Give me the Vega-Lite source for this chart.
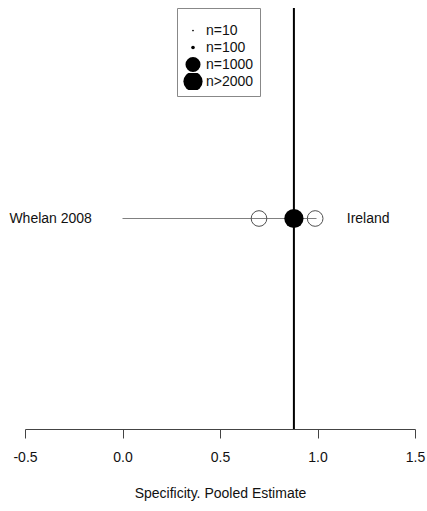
{
  "$schema": "https://vega.github.io/schema/vega-lite/v6.json",
  "width": 390,
  "height": 421,
  "autosize": {"type": "none"},
  "padding": {"left": 25, "top": 8, "right": 12, "bottom": 82},
  "background": "white",
  "config": {"view": {"stroke": null}, "font": "Liberation Sans"},
  "datasets": {
    "study": [{"study": "Whelan 2008", "country": "Ireland", "row": 0.5, "lower": 0.0, "upper": 0.995}],
    "circles": [{"value": 0.70, "row": 0.5}, {"value": 0.875, "row": 0.5}, {"value": 0.988, "row": 0.5}],
    "pooled": [{"estimate": 0.879, "row": 0.5, "n": "n>2000", "bottom": 0, "top": 1}]
  },
  "layer": [
    {
      "data": {"name": "study"},
      "mark": {"type": "rule", "color": "#808080", "strokeWidth": 1},
      "encoding": {
        "x": {"field": "lower", "type": "quantitative", "scale": {"domain": [-0.5, 1.5], "nice": false, "zero": false},
          "axis": {"values": [-0.5, 0, 0.5, 1, 1.5], "labelExpr": "datum.value < 0 ? '-' + format(-datum.value, '.1f') : format(datum.value, '.1f')", "grid": false, "domainColor": "#444", "tickColor": "#444", "tickSize": 9, "labelFontSize": 14, "labelColor": "#111", "labelFont": "Liberation Sans", "labelPadding": 12, "labelFlush": false, "title": "Specificity. Pooled Estimate", "titleFontSize": 14, "titleFontWeight": "normal", "titleColor": "#111", "titleFont": "Liberation Sans", "titlePadding": 22}},
        "x2": {"field": "upper"},
        "y": {"field": "row", "type": "quantitative", "scale": {"domain": [0, 1], "nice": false, "zero": false}, "axis": null}
      }
    },
    {
      "data": {"name": "circles"},
      "mark": {"type": "point", "shape": "circle", "filled": false, "stroke": "#505050", "strokeWidth": 1, "size": 245, "opacity": 1},
      "encoding": {
        "x": {"field": "value", "type": "quantitative"},
        "y": {"field": "row", "type": "quantitative"}
      }
    },
    {
      "data": {"name": "pooled"},
      "mark": {"type": "rule", "color": "black", "strokeWidth": 2},
      "encoding": {
        "x": {"field": "estimate", "type": "quantitative"},
        "y": {"field": "bottom", "type": "quantitative"},
        "y2": {"field": "top"}
      }
    },
    {
      "data": {"name": "pooled"},
      "mark": {"type": "point", "shape": "circle", "filled": true, "color": "black", "opacity": 1},
      "encoding": {
        "x": {"field": "estimate", "type": "quantitative"},
        "y": {"field": "row", "type": "quantitative"},
        "size": {"field": "n", "type": "ordinal",
          "scale": {"type": "ordinal", "domain": ["n=10", "n=100", "n=1000", "n>2000"], "range": [3, 13, 227, 370]},
          "legend": {"orient": "none", "legendX": 152, "legendY": 0, "title": " ", "titleFontSize": 7, "titlePadding": 1, "padding": 6, "strokeColor": "#888", "fillColor": "white", "labelFontSize": 14, "labelFont": "Liberation Sans", "labelColor": "#111", "symbolType": "circle", "symbolFillColor": "black", "symbolStrokeWidth": 0, "clipHeight": 17, "rowPadding": 0, "labelOffset": 3, "cornerRadius": 0}}
      }
    },
    {
      "data": {"name": "study"},
      "mark": {"type": "text", "align": "left", "baseline": "middle", "fontSize": 14, "font": "Liberation Sans", "color": "#111"},
      "encoding": {
        "x": {"datum": -0.58},
        "y": {"field": "row", "type": "quantitative"},
        "text": {"field": "study"}
      }
    },
    {
      "data": {"name": "study"},
      "mark": {"type": "text", "align": "left", "baseline": "middle", "fontSize": 14, "font": "Liberation Sans", "color": "#111"},
      "encoding": {
        "x": {"datum": 1.15},
        "y": {"field": "row", "type": "quantitative"},
        "text": {"field": "country"}
      }
    }
  ]
}
